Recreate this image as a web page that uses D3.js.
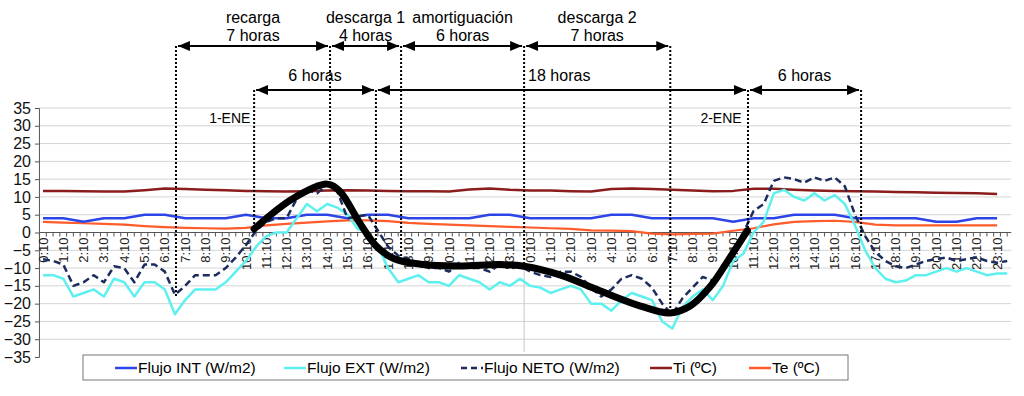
<!DOCTYPE html>
<html lang="es">
  <head>
    <meta charset="UTF-8">
    <title>Flujos y temperaturas</title>
    <script src="https://cdn.jsdelivr.net/npm/d3@7"></script>
    <style>
      body { margin: 0; background: #fff; }
      text { font-family: Arial, "Liberation Sans", Helvetica, sans-serif; }
      .grid line { stroke: #d4d4d4; stroke-width: 1; }
      .serie { fill: none; stroke-linejoin: round; }
    </style>
  </head>
  <body>
    <svg id="chart"></svg>

    <script>
      // hourly categories, two days (0:10 ... 23:10, 0:10 ... 23:10)
      var hours = d3.range(48);
      var hourLabels = hours.map(function(h) { return (h % 24) + ":10"; });

      var flujoInt = [4, 4, 3, 4, 4, 5, 5, 4, 4, 4, 5, 4, 4, 5, 5, 4, 5, 5, 4, 4, 4, 4, 5, 5,
                      4, 4, 4, 4, 5, 5, 4, 4, 4, 4, 3, 4, 4, 5, 5, 5, 4, 4, 4, 4, 3, 3, 4, 4];
      var ti = [11.7, 11.7, 11.6, 11.5, 11.5, 11.9, 12.4, 12.2, 12.0, 11.9, 11.7, 11.6,
                11.5, 11.6, 11.8, 11.9, 11.8, 11.7, 11.6, 11.6, 11.5, 12.1, 12.4, 12.0,
                11.8, 11.8, 11.6, 11.5, 12.2, 12.4, 12.2, 12.0, 11.8, 11.6, 11.7, 12.3,
                12.3, 12.0, 11.8, 11.7, 11.6, 11.5, 11.4, 11.3, 11.2, 11.1, 11.0, 10.8];
      var te = [3.0, 2.8, 2.6, 2.4, 2.2, 1.8, 1.5, 1.3, 1.2, 1.1, 1.3, 2.0,
                2.4, 2.8, 3.1, 3.4, 3.4, 3.2, 2.7, 2.4, 2.2, 2.0, 1.8, 1.6,
                1.4, 1.2, 1.0, 0.6, 0.5, 0.4, -0.3, -0.5, -0.4, -0.3, 0.5, 1.2,
                2.3, 3.0, 3.2, 3.3, 3.0, 2.2, 2.0, 2.0, 2.0, 2.0, 2.0, 2.0];

      // half-hourly readings for the two fluxes
      var halfHours = d3.range(0, 48, 0.5);
      var flujoExt = [-12, -12, -13, -18, -17, -16, -18, -13, -14, -18, -14, -14,
                      -16, -23, -19, -16, -16, -16, -14, -11, -8, -4, -1, 0,
                      0, 4, 8, 6, 8, 7, 5, 1, 0, -4, -10, -14,
                      -13, -12, -14, -14, -15, -12, -13, -14, -16, -14, -15, -13,
                      -15, -15.5, -17, -16, -15, -16, -20, -20, -22, -19, -17, -18,
                      -19, -25, -27, -21, -18, -16, -19, -15, -8, -6, 0, 3,
                      11, 12, 10, 9, 11, 9, 10.5, 8, 2, -5, -10, -13,
                      -14, -13.5, -12, -12, -11, -10, -11, -10, -11, -12, -11.5, -11.5];
      var flujoNeto = [-7.5, -8, -9, -15, -14, -12, -14, -9.5, -10, -14, -9, -9,
                       -11, -17.5, -15, -12, -12, -12, -10, -7, -3.5, 0.5, 3, 4,
                       4, 9.5, 12, 11, 13.5, 11.5, 4, 4.5, 5, 0.5, -4, -6.5,
                       -7.5, -8.5, -10, -10, -11, -8.5, -10, -10, -11, -9, -10, -9.5,
                       -11, -12, -12.5, -11, -11, -12.5, -15.5, -18, -16, -13, -12, -13,
                       -15.5, -20, -23, -18.5, -15.5, -12.5, -13.5, -10.5, -5, 0, 6, 8,
                       14.5, 15.5, 15, 14, 15.5, 14.5, 15.5, 13, 5, -1, -5.5, -8,
                       -9.5, -10, -9, -8, -7.5, -7, -8, -7.5, -7, -8, -8.5, -8];

      // hand drawn trend (thick black line)
      var trendHours = [10.4, 12.3, 14.0, 14.6, 15.6, 16.4, 17.3, 18.6, 20.5, 22.5, 23.7,
                        25.5, 27.4, 29.4, 30.9, 31.9, 32.9, 33.8, 34.7];
      var trendValues = [1, 9.5, 13.6, 11.7, 2.7, -3.7, -7.4, -8.9, -9.4, -9, -9.5,
                         -12, -16.3, -20.6, -22.6, -20.6, -15, -7.4, 0.5];

      // phase annotations (upper row of arrows)
      var phaseStart = [6.55, 14.14, 17.64, 23.7];
      var phaseEnd = [14.14, 17.64, 23.7, 30.9];
      var phaseName = ["recarga", "descarga 1", "amortiguación", "descarga 2"];
      var phaseHours = ["7 horas", "4 horas", "6 horas", "7 horas"];

      // lag annotations (lower row of arrows)
      var lagStart = [10.4, 16.4, 34.73];
      var lagEnd = [16.4, 34.73, 40.3];
      var lagText = ["6 horas", "18 horas", "6 horas"];

      // dotted guides: hour, row of the arrow it starts on, value where it stops
      var guideHour = [6.55, 10.4, 14.14, 16.4, 17.64, 23.7, 30.9, 34.73, 40.3];
      var guideRow = [1, 2, 1, 2, 1, 1, 1, 2, 2];
      var guideEnd = [-18, 1, 13, -5, -8.5, -9.5, -22.6, 0.5, -1];

      var dayLabels = ["1-ENE", "2-ENE"];
      var dayLabelHour = [9.2, 33.4];

      var yTicks = d3.range(-35, 40, 5);

      var width = 1024, height = 396;
      var svg = d3.select("#chart").attr("width", width).attr("height", height);

      var x = d3.scaleLinear().domain([0, 47]).range([43, 43 + 47 * 20.3]);
      var y = d3.scaleLinear().domain([-35, 35]).range([357, 108]);
      var xMin = x(-0.2), xMax = x(47.7);

      // horizontal gridlines
      svg.append("g").attr("class", "grid")
        .selectAll("line")
        .data(yTicks.filter(function(d) { return d !== 0 && d !== -35; }))
        .enter().append("line")
        .attr("x1", xMin).attr("x2", xMax)
        .attr("y1", function(d) { return y(d); })
        .attr("y2", function(d) { return y(d); });

      // day separator below the plot
      svg.append("line")
        .attr("x1", x(23.7)).attr("x2", x(23.7))
        .attr("y1", y(-9.5)).attr("y2", 352)
        .attr("stroke", "#c8c8c8").attr("stroke-width", 1);

      // y axis
      var yAxis = svg.append("g")
        .attr("transform", "translate(" + xMin + ",0)")
        .call(d3.axisLeft(y).tickValues(yTicks).tickSize(4).tickPadding(4));
      yAxis.select(".domain").attr("stroke", "#555");
      yAxis.selectAll(".tick line").attr("stroke", "#555");
      yAxis.selectAll("text").attr("font-size", 16).attr("fill", "#111")
        .style("font-family", "Arial, 'Liberation Sans', sans-serif");

      // x axis at zero
      var xAxis = svg.append("g")
        .attr("transform", "translate(0," + y(0) + ")");
      xAxis.append("line")
        .attr("x1", xMin).attr("x2", xMax)
        .attr("stroke", "#555").attr("stroke-width", 1);
      xAxis.selectAll(".minor")
        .data(d3.range(-0.17, 47.7, 1 / 3))
        .enter().append("line")
        .attr("x1", function(d) { return x(d); })
        .attr("x2", function(d) { return x(d); })
        .attr("y1", 0).attr("y2", 4)
        .attr("stroke", "#555");
      xAxis.selectAll(".lbl")
        .data(hours)
        .enter().append("text")
        .attr("transform", function(d) { return "translate(" + (x(d) + 4.5) + ",5) rotate(-90)"; })
        .attr("text-anchor", "end")
        .attr("font-size", 13)
        .attr("fill", "#222")
        .text(function(d) { return hourLabels[d]; });

      // series
      var line = d3.line()
        .x(function(d) { return x(d[0]); })
        .y(function(d) { return y(d[1]); });

      function drawSerie(xs, values, color, w, dash) {
        svg.append("path")
          .attr("class", "serie")
          .datum(d3.zip(xs, values))
          .attr("d", line)
          .attr("stroke", color)
          .attr("stroke-width", w)
          .attr("stroke-dasharray", dash || null);
      }

      drawSerie(hours, ti, "#8a1c1c", 2.5);
      drawSerie(hours, te, "#ff5b2b", 2.2);
      drawSerie(hours, flujoInt, "#2d45e6", 2.5);
      drawSerie(halfHours, flujoExt, "#5ef0ee", 2.5);
      drawSerie(halfHours, flujoNeto, "#1c2c5e", 2.5, "7,4");

      // thick trend curve
      svg.append("path")
        .datum(d3.zip(trendHours, trendValues))
        .attr("d", d3.line()
          .x(function(d) { return x(d[0]); })
          .y(function(d) { return y(d[1]); })
          .curve(d3.curveCatmullRom.alpha(0.5)))
        .attr("fill", "none")
        .attr("stroke", "#000")
        .attr("stroke-width", 7)
        .attr("stroke-linecap", "round");

      // arrows
      var defs = svg.append("defs");
      defs.append("marker")
        .attr("id", "head")
        .attr("viewBox", "0 0 12 10")
        .attr("refX", 12).attr("refY", 5)
        .attr("markerWidth", 12).attr("markerHeight", 10)
        .attr("markerUnits", "userSpaceOnUse")
        .attr("orient", "auto-start-reverse")
        .append("path").attr("d", "M0,0 L12,5 L0,10 Z").attr("fill", "#000");

      var row1 = 46, row2 = 90;

      svg.selectAll(".guide")
        .data(guideHour)
        .enter().append("line")
        .attr("x1", function(d) { return x(d); })
        .attr("x2", function(d) { return x(d); })
        .attr("y1", function(d, i) { return guideRow[i] === 1 ? row1 : row2; })
        .attr("y2", function(d, i) { return y(guideEnd[i]); })
        .attr("stroke", "#000")
        .attr("stroke-width", 2)
        .attr("stroke-dasharray", "2,2");

      function arrow(h0, h1, yy) {
        svg.append("line")
          .attr("x1", x(h0) + 2).attr("x2", x(h1) - 2)
          .attr("y1", yy).attr("y2", yy)
          .attr("stroke", "#000").attr("stroke-width", 2)
          .attr("marker-start", "url(#head)")
          .attr("marker-end", "url(#head)");
      }

      phaseStart.forEach(function(h, i) {
        arrow(h, phaseEnd[i], row1);
        var cx = (x(h) + x(phaseEnd[i])) / 2;
        svg.append("text").attr("x", cx).attr("y", 23)
          .attr("text-anchor", "middle").attr("font-size", 16)
          .text(phaseName[i]);
        svg.append("text").attr("x", cx).attr("y", 41)
          .attr("text-anchor", "middle").attr("font-size", 16)
          .text(phaseHours[i]);
      });

      lagStart.forEach(function(h, i) {
        arrow(h, lagEnd[i], row2);
        var t = svg.append("text").attr("y", 81).attr("font-size", 16).text(lagText[i]);
        if (i === 1) {
          t.attr("x", x(phaseEnd[2]) + 4).attr("text-anchor", "start");
        } else {
          t.attr("x", (x(h) + x(lagEnd[i])) / 2).attr("text-anchor", "middle");
        }
      });

      svg.selectAll(".day")
        .data(dayLabels)
        .enter().append("text")
        .attr("x", function(d, i) { return x(dayLabelHour[i]); })
        .attr("y", 123)
        .attr("text-anchor", "middle")
        .attr("font-size", 14)
        .text(function(d) { return d; });

      // legend
      var legend = svg.append("g");
      legend.append("rect")
        .attr("x", 83).attr("y", 355).attr("width", 765).attr("height", 25)
        .attr("fill", "#fff").attr("stroke", "#777").attr("stroke-width", 1);

      var legendNames = ["Flujo INT (W/m2)", "Flujo EXT (W/m2)", "Flujo NETO (W/m2)", "Ti (ºC)", "Te (ºC)"];
      var legendColors = ["#2d45e6", "#5ef0ee", "#1c2c5e", "#8a1c1c", "#ff5b2b"];
      var legendX = [115, 284, 461, 650, 749];
      var legendDash = [null, null, "6,4", null, null];

      legendNames.forEach(function(name, i) {
        legend.append("line")
          .attr("x1", legendX[i]).attr("x2", legendX[i] + 22)
          .attr("y1", 368).attr("y2", 368)
          .attr("stroke", legendColors[i]).attr("stroke-width", 2.5)
          .attr("stroke-dasharray", legendDash[i]);
        legend.append("text")
          .attr("x", legendX[i] + 23).attr("y", 373)
          .attr("font-size", 15.5)
          .text(name);
      });
    </script>
  </body>
</html>
